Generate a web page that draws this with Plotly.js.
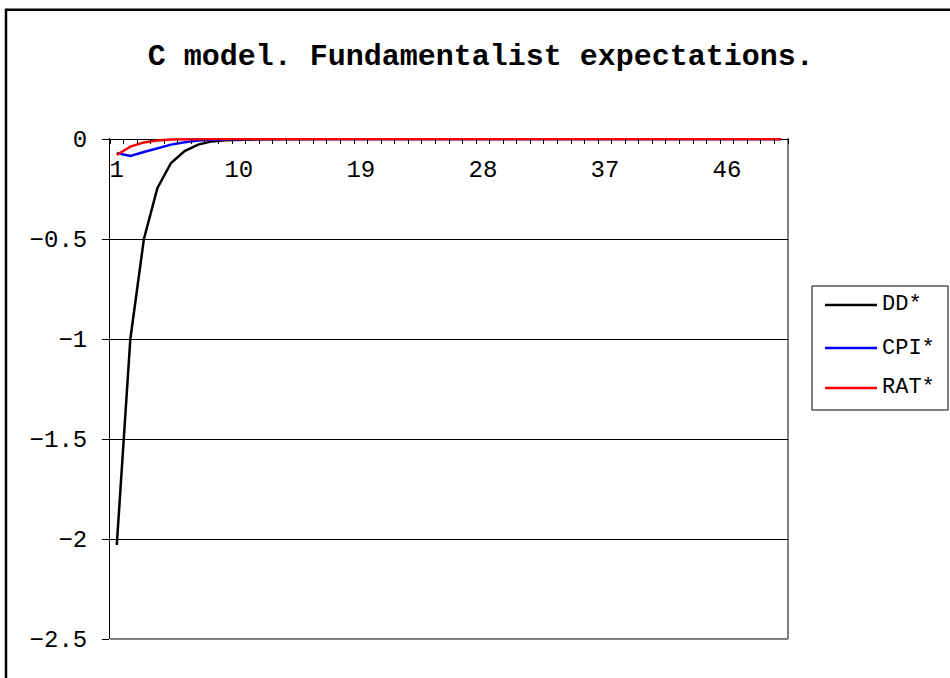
<!DOCTYPE html>
<html>
<head>
<meta charset="utf-8">
<script src="https://cdn.plot.ly/plotly-3.0.1.min.js"></script>
<style>html,body{margin:0;padding:0;background:#fff;}#chart{width:950px;height:678px;}</style>
</head>
<body>
<div id="chart"></div>
<script>
var periods = [1,2,3,4,5,6,7,8,9,10,11,12,13,14,15,16,17,18,19,20,21,22,23,24,25,26,27,28,29,30,31,32,33,34,35,36,37,38,39,40,41,42,43,44,45,46,47,48,49,50];
var tickPeriods = [1,10,19,28,37,46];
var yTickVals = [0,-0.5,-1,-1.5,-2,-2.5];
var yTickText = ["0","\u22120.5","\u22121","\u22121.5","\u22122","\u22122.5"];
var seriesNames = ["DD*","CPI*","RAT*"];
var seriesColors = ["#000000","#0000FF","#FF0000"];
var dd  = [-2.03,-1.0,-0.5,-0.245,-0.12,-0.06,-0.028,-0.012,-0.006,-0.003,-0.002,-0.001,0,0,0,0,0,0,0,0,0,0,0,0,0,0,0,0,0,0,0,0,0,0,0,0,0,0,0,0,0,0,0,0,0,0,0,0,0,0];
var cpi = [-0.07,-0.085,-0.065,-0.045,-0.028,-0.016,-0.008,-0.004,-0.002,-0.001,0,0,0,0,0,0,0,0,0,0,0,0,0,0,0,0,0,0,0,0,0,0,0,0,0,0,0,0,0,0,0,0,0,0,0,0,0,0,0,0];
var rat = [-0.08,-0.038,-0.017,-0.007,-0.003,-0.001,0,0,0,0,0,0,0,0,0,0,0,0,0,0,0,0,0,0,0,0,0,0,0,0,0,0,0,0,0,0,0,0,0,0,0,0,0,0,0,0,0,0,0,0];
var seriesValues = [dd, cpi, rat];

var FONT = "Liberation Mono, Courier New, monospace";
var traces = seriesValues.map(function(v, i){
  return {x: periods, y: v, type: "scatter", mode: "lines", name: seriesNames[i],
          line: {color: seriesColors[i], width: 2.5}, hoverinfo: "skip", showlegend: false};
});

// legend box (drawn as shapes/annotations, in paper coordinates of the plot area)
var legX0 = 1.0354, legX1 = 1.236, legY0 = 0.4571, legY1 = 0.7046;
var legLineX0 = 1.0546, legLineX1 = 1.1313, legTextX = 1.1357;
var legRowsY = [0.6667, 0.5808, 0.5010];

var shapes = [
  {type: "line", xref: "paper", yref: "paper", x0: 1, x1: 1, y0: 0, y1: 1, line: {color: "#808080", width: 2}, layer: "below"},
  {type: "line", xref: "paper", yref: "paper", x0: 0, x1: 1, y0: 0, y1: 0, line: {color: "#808080", width: 2}, layer: "below"},
  {type: "rect", xref: "paper", yref: "paper", x0: -0.1534, x1: 1.30, y0: -0.15, y1: 1.2561, line: {color: "#000", width: 2.5}, fillcolor: "rgba(0,0,0,0)", layer: "below"},
  {type: "rect", xref: "paper", yref: "paper", x0: legX0, x1: legX1, y0: legY0, y1: legY1, line: {color: "#000", width: 1}, fillcolor: "#fff", layer: "above"}
];
var annotations = [];
seriesNames.forEach(function(n, i){
  shapes.push({type: "line", xref: "paper", yref: "paper", x0: legLineX0, x1: legLineX1, y0: legRowsY[i], y1: legRowsY[i],
               line: {color: seriesColors[i], width: 2.5}, layer: "above"});
  annotations.push({xref: "paper", yref: "paper", x: legTextX, y: legRowsY[i], xanchor: "left", yanchor: "middle",
                    text: n, showarrow: false, font: {family: FONT, size: 22, color: "#000"}});
});

var layout = {
  width: 950, height: 678,
  paper_bgcolor: "#fff", plot_bgcolor: "#fff",
  margin: {l: 110, r: 162, t: 138, b: 39, pad: 0},
  title: {text: "C model. Fundamentalist expectations.", xref: "container", yref: "container",
          x: 0.506, xanchor: "center", y: 0.92, yanchor: "middle",
          font: {family: FONT, size: 30, color: "#000", weight: "bold"}},
  xaxis: {range: [0.5, 50.5], side: "bottom", anchor: "free", position: 1,
          tickmode: "array", tickvals: tickPeriods,
          ticktext: tickPeriods.map(String), ticks: "",
          ticklabelstandoff: 14, ticklabeloverflow: "allow",
          showgrid: false, zeroline: false, showline: false,
          tickfont: {family: FONT, size: 24, color: "#000"},
          minor: {tickmode: "linear", tick0: 0.5, dtick: 1, ticks: "outside", ticklen: 5,
                  tickcolor: "#000", tickwidth: 1, showgrid: false}},
  yaxis: {range: [-2.5, 0.005], tickmode: "array", tickvals: yTickVals, ticktext: yTickText,
          ticks: "outside", ticklen: 7, tickcolor: "#000", tickwidth: 1,
          ticklabelstandoff: 10, ticklabeloverflow: "allow",
          showline: true, linecolor: "#000", linewidth: 1,
          showgrid: true, gridcolor: "#000", gridwidth: 1,
          zeroline: true, zerolinecolor: "#000", zerolinewidth: 1,
          tickfont: {family: FONT, size: 24, color: "#000"}},
  showlegend: false,
  shapes: shapes,
  annotations: annotations
};
Plotly.newPlot("chart", traces, layout, {displayModeBar: false, staticPlot: true});
</script>
</body>
</html>
